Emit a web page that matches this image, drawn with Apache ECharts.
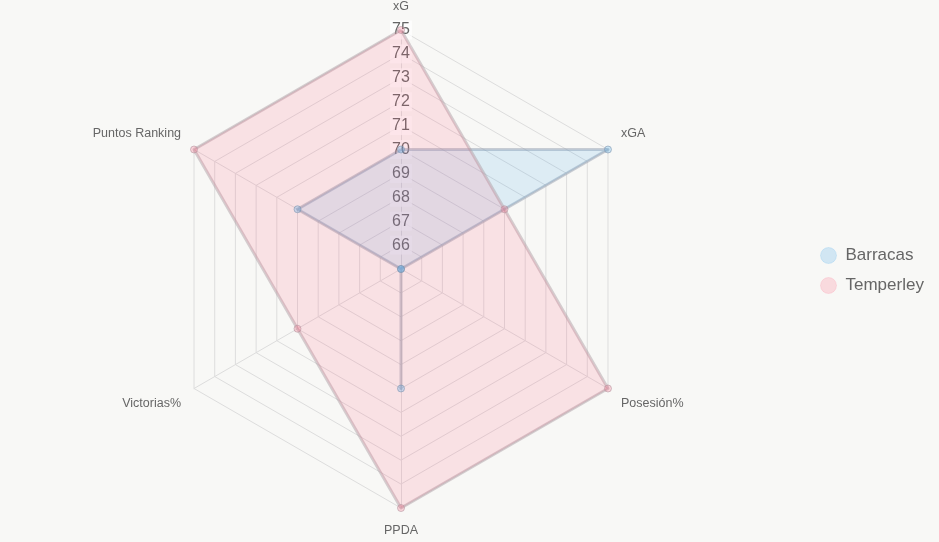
<!DOCTYPE html>
<html>
<head>
<meta charset="utf-8">
<script src="https://cdn.jsdelivr.net/npm/echarts@6/dist/echarts.min.js"></script>
<style>
  html, body { margin: 0; padding: 0; background: #f8f8f6; }
  #chart { width: 939px; height: 542px; }
</style>
</head>
<body>
<div id="chart"></div>
<script>
// ejes en el orden de echarts (arriba y luego en sentido antihorario)
var indicadores = ['xG', 'Puntos Ranking', 'Victorias%', 'PPDA', 'Posesión%', 'xGA'];
var barracas = [70, 70, 65, 70, 65, 75];
var temperley = [75, 75, 70, 75, 75, 70];
var escalaMin = 65, escalaMax = 75;

var arriba = ['Puntos Ranking', 'xGA'];
var abajo = ['Victorias%', 'Posesión%'];

var font = 'Liberation Sans, Arial, sans-serif';

var chart = echarts.init(document.getElementById('chart'));

var option = {
  backgroundColor: '#f8f8f6',
  animation: false,
  legend: {
    orient: 'vertical',
    left: 815,
    top: 242,
    itemWidth: 16,
    itemHeight: 16,
    itemGap: 13,
    icon: 'circle',
    textStyle: { fontFamily: font, fontSize: 17, color: '#666', padding: [0, 0, 0, 4] },
    data: [
      { name: 'Barracas', itemStyle: { color: 'rgba(54,162,235,0.2)', borderColor: 'rgba(54,162,235,0.15)', borderWidth: 1 } },
      { name: 'Temperley', itemStyle: { color: 'rgba(255,99,132,0.2)', borderColor: 'rgba(255,99,132,0.15)', borderWidth: 1 } }
    ]
  },
  radar: {
    center: [401, 269],
    radius: 239,
    startAngle: 90,
    splitNumber: 10,
    shape: 'polygon',
    axisName: {
      color: '#666', fontFamily: font, fontSize: 12.5, lineHeight: 16,
      formatter: function (n) {
        if (arriba.indexOf(n) >= 0) return n + '\n ';
        if (abajo.indexOf(n) >= 0) return ' \n' + n;
        return n;
      }
    },
    nameGap: 15,
    splitLine: { lineStyle: { color: '#dddddd', width: 1 } },
    splitArea: { show: false },
    axisLine: { lineStyle: { color: '#dddddd', width: 1 } },
    indicator: indicadores.map(function (n, i) {
      var ind = { name: n, min: escalaMin, max: escalaMax };
      if (i === 0) {
        ind.axisLabel = {
          show: true,
          margin: 0,
          align: 'center',
          verticalAlign: 'middle',
          showMinLabel: false,
          color: '#666',
          fontFamily: font,
          fontSize: 16,
          backgroundColor: 'rgba(255,255,255,0.75)',
          padding: [2, 2, 1, 2]
        };
      }
      return ind;
    })
  },
  series: [{
    type: 'radar',
    symbol: 'circle',
    symbolSize: 7,
    data: [
      {
        name: 'Barracas',
        value: barracas,
        lineStyle: { color: 'rgba(150,160,175,0.5)', width: 3 },
        areaStyle: { color: 'rgba(54,162,235,0.2)' },
        itemStyle: { color: 'rgba(54,162,235,0.25)', borderColor: 'rgba(130,150,175,0.6)', borderWidth: 1 }
      },
      {
        name: 'Temperley',
        value: temperley,
        lineStyle: { color: 'rgba(175,160,165,0.5)', width: 3 },
        areaStyle: { color: 'rgba(255,99,132,0.22)' },
        itemStyle: { color: 'rgba(255,99,132,0.25)', borderColor: 'rgba(180,150,160,0.6)', borderWidth: 1 }
      }
    ]
  }]
};

chart.setOption(option);
</script>
</body>
</html>
